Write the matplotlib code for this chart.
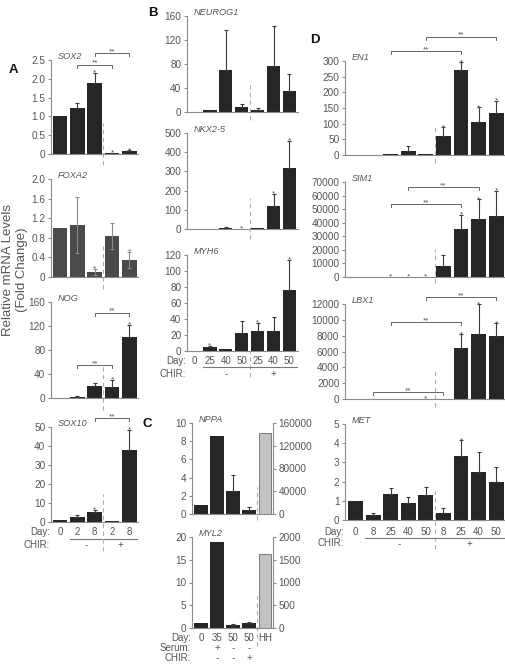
import matplotlib.pyplot as plt
import matplotlib.transforms as mtransforms
import numpy as np

plt.rcParams['font.family'] = ['Liberation Sans', 'DejaVu Sans']

W, H = 506, 665
TXT = '#555555'
SPINE = '#8c8c8c'
BAR = '#262626'
FS = 7.2

# ---- A: days 0, 2, 8 (-CHIR) and 2, 8 (+CHIR)
days_a = ['0', '2', '8', '2', '8']
sox2 = [1.0, 1.22, 1.9, 0.02, 0.07]
sox2_err = [0, 0.13, 0.26, 0.01, 0.03]
sox2_star = [0, 0, 1, 1, 1]
foxa2 = [1.0, 1.06, 0.1, 0.84, 0.35]
foxa2_err = [0, 0.57, 0.06, 0.27, 0.17]
foxa2_star = [0, 0, 1, 0, 1]
nog = [0.5, 2, 20, 19, 102]
nog_err = [0, 1, 5, 11, 20]
nog_star = [0, 0, 0, 1, 1]
sox10 = [0.8, 2.5, 5.2, 0.3, 38]
sox10_err = [0, 1.0, 1.3, 0, 10.5]
sox10_star = [0, 0, 1, 0, 1]

# ---- B: days 0, 25, 40, 50 (-CHIR) and 25, 40, 50 (+CHIR)
days_b = ['0', '25', '40', '50', '25', '40', '50']
neurog1 = [0.5, 3, 70, 8, 4, 77, 35]
neurog1_err = [0, 0, 67, 5, 2, 67, 29]
nkx25 = [0, 1, 5, 1, 3, 118, 318]
nkx25_err = [0, 0, 3, 0, 0, 65, 142]
nkx25_star = [0, 0, 0, 1, 0, 1, 1]
myh6 = [0.5, 4.5, 2.5, 22, 25, 25, 76]
myh6_err = [0, 2, 0, 15, 10, 17, 38]
myh6_star = [0, 1, 0, 0, 1, 0, 1]

# ---- C: day 0, 35 (+serum), 50, 50 (+CHIR), HH (right axis)
days_c = ['0', '35', '50', '50', 'HH']
serum_c = ['', '+', '-', '-', '']
chir_c = ['', '-', '-', '+', '']
nppa = [1.0, 8.6, 2.5, 0.4]
nppa_err = [0, 0, 1.75, 0.4]
nppa_hh = 142000
myl2 = [1.0, 18.8, 0.6, 1.1]
myl2_err = [0, 0, 0.3, 0.2]
myl2_hh = 1630

# ---- D: days 0, 8, 25, 40, 50 (-CHIR) and 8, 25, 40, 50 (+CHIR)
days_d = ['0', '8', '25', '40', '50', '8', '25', '40', '50']
en1 = [0.5, 0, 2, 14, 3, 60, 272, 104, 133]
en1_err = [0, 0, 0, 16, 0, 28, 24, 48, 40]
en1_star = [0, 0, 0, 0, 0, 1, 1, 1, 1]
sim1 = [0, 0, 150, 200, 250, 8300, 35300, 42500, 45000]
sim1_err = [0, 0, 0, 0, 0, 8000, 10400, 14700, 18400]
sim1_star = [0, 0, 1, 1, 1, 0, 1, 1, 1]
lbx1 = [0, 0, 0, 0, 30, 0, 6400, 8200, 8000]
lbx1_err = [0, 0, 0, 0, 0, 0, 1770, 3760, 1560]
lbx1_star = [0, 0, 0, 0, 1, 0, 1, 1, 1]
met = [1.0, 0.25, 1.35, 0.87, 1.32, 0.38, 3.35, 2.52, 1.97]
met_err = [0, 0.1, 0.3, 0.35, 0.42, 0.25, 0.8, 1.0, 0.78]
met_star = [0, 0, 0, 0, 0, 0, 1, 0, 0]

fig = plt.figure(figsize=(W / 100, H / 100), dpi=100)


def fy(ypx):
    return 1 - ypx / H


def panel(box, xlim, vals, errs, yticks, ylabels, title, stars=None,
          brackets=(), split=None, dash=(-0.12, 0.33), color=BAR, both=False):
    x0, y0, x1, y1 = box
    ax = fig.add_axes([x0 / W, fy(y1), (x1 - x0) / W, (y1 - y0) / H])
    x = np.arange(len(vals))
    ax.bar(x, vals, width=0.84, color=color, zorder=2)
    e = np.array(errs, dtype=float)
    m = e > 0
    lo = e[m] if both else np.zeros(m.sum())
    ax.errorbar(x[m], np.array(vals)[m], yerr=[lo, e[m]], fmt='none',
                ecolor='#8a8a8a' if both else '#3a3a3a', elinewidth=0.8,
                capsize=1.6, capthick=0.8, zorder=3)
    ax.set_xlim(*xlim)
    ax.set_ylim(0, yticks[-1])
    ax.set_yticks(yticks)
    ax.set_yticklabels(ylabels)
    for s in ['top', 'right']:
        ax.spines[s].set_visible(False)
    for s in ['left', 'bottom']:
        ax.spines[s].set_color(SPINE)
        ax.spines[s].set_linewidth(0.8)
    ax.tick_params(axis='y', length=2.5, width=0.8, color=SPINE, labelsize=FS,
                   labelcolor=TXT, pad=1.5)
    ax.tick_params(axis='x', bottom=False, labelbottom=False)
    ax.text(7 / (x1 - x0), 1 + 3.5 / (y1 - y0), title, transform=ax.transAxes,
            style='italic', fontsize=6.6, color=TXT, ha='left', va='center')
    if stars is not None:
        for i, st in enumerate(stars):
            if st:
                ax.annotate('*', (i, vals[i] + errs[i]), xytext=(0, -1.2),
                            textcoords='offset points', ha='center', va='baseline',
                            fontsize=6, color=TXT, annotation_clip=False)
    d = 3 * yticks[-1] / (y1 - y0)
    for a, b, yb in brackets:
        ax.plot([a, a, b, b], [yb - d, yb, yb, yb - d], color='#666666', lw=0.7,
                clip_on=False)
        ax.text((a + b) / 2, yb, '**', ha='center', va='baseline', fontsize=6,
                color=TXT, clip_on=False)
    if split is not None:
        tr = mtransforms.blended_transform_factory(ax.transData, ax.transAxes)
        ax.plot([split, split], dash, transform=tr, color='#b0b0b0', lw=0.8,
                ls=(0, (4, 3)), clip_on=False, zorder=1)
    return ax


def rows(ax, spine, items):
    tr = mtransforms.blended_transform_factory(ax.transData, fig.transFigure)
    for ypx, head, labels in items:
        fig.text((spine - 1) / W, fy(ypx), head, ha='right', va='center',
                 fontsize=7, color=TXT)
        for i, lab in enumerate(labels):
            ax.text(i, fy(ypx), lab, transform=tr, ha='center', va='center',
                    fontsize=7, color=TXT)


def groups(ax, yline, ysign, spans):
    tr = mtransforms.blended_transform_factory(ax.transData, fig.transFigure)
    for a, b, sign in spans:
        ax.plot([a - 0.45, b + 0.45], [fy(yline)] * 2, transform=tr,
                color='#777777', lw=0.8, clip_on=False)
        ax.text((a + b) / 2, fy(ysign), sign, transform=tr, ha='center',
                va='center', fontsize=7, color=TXT)


# ---------------- Panel A
xa = (-0.52, 4.5)
panel((51, 60, 138, 154), xa, sox2, sox2_err, [0, 0.5, 1, 1.5, 2, 2.5],
      ['0', '0.5', '1.0', '1.5', '2.0', '2.5'], 'SOX2', sox2_star,
      [(1, 3, 2.37), (2, 4, 2.68)], split=2.5)
panel((51, 179, 138, 277), xa, foxa2, foxa2_err, [0, 0.4, 0.8, 1.2, 1.6, 2.0],
      ['0', '0.4', '0.8', '1.2', '1.6', '2.0'], 'FOXA2', foxa2_star,
      split=2.5, color='#4a4a4a', both=True)
panel((51, 302, 138, 398), xa, nog, nog_err, [0, 40, 80, 120, 160],
      ['0', '40', '80', '120', '160'], 'NOG', nog_star,
      [(1, 3, 55), (2, 4, 142)], split=2.5)
ax = panel((51, 427, 138, 522), xa, sox10, sox10_err, [0, 10, 20, 30, 40, 50],
           ['0', '10', '20', '30', '40', '50'], 'SOX10', sox10_star,
           [(2, 4, 54.7)], split=2.5, dash=(-0.3, 0.3))
rows(ax, 51, [(532, 'Day:', days_a), (545, 'CHIR:', [''] * 5)])
groups(ax, 539, 545, [(1, 2, '-'), (3, 4, '+')])

# ---------------- Panel B
xb = (-0.44, 6.54)
panel((187, 16, 298, 112), xb, neurog1, neurog1_err, [0, 40, 80, 120, 160],
      ['0', '40', '80', '120', '160'], 'NEUROG1', split=3.5, dash=(-0.08, 0.32))
panel((187, 133, 298, 229), xb, nkx25, nkx25_err, [0, 100, 200, 300, 400, 500],
      ['0', '100', '200', '300', '400', '500'], 'NKX2-5', nkx25_star,
      split=3.5, dash=(-0.1, 0.32))
ax = panel((187, 255, 298, 351), xb, myh6, myh6_err, [0, 20, 40, 60, 80, 100, 120],
           ['0', '20', '40', '60', '80', '100', '120'], 'MYH6', myh6_star,
           split=3.5, dash=(-0.27, 0.0))
rows(ax, 187, [(361, 'Day:', days_b), (374, 'CHIR:', [''] * 7)])
groups(ax, 367, 374, [(1, 3, '-'), (4, 6, '+')])

# ---------------- Panel C
xc = (-0.56, 4.5)


def right_axis(ax, val, ticks, labels):
    ax2 = ax.twinx()
    ax2.bar([4], [val], width=0.78, color='#c2c2c2', edgecolor='#7a7a7a', lw=0.7)
    ax2.set_xlim(*xc)
    ax2.set_ylim(0, ticks[-1])
    ax2.set_yticks(ticks)
    ax2.set_yticklabels(labels)
    for s in ['top', 'left', 'bottom']:
        ax2.spines[s].set_visible(False)
    ax2.spines['right'].set_color(SPINE)
    ax2.spines['right'].set_linewidth(0.8)
    ax2.tick_params(axis='y', length=2.5, width=0.8, color=SPINE, labelsize=FS,
                    labelcolor=TXT, pad=1.5)


ax = panel((192, 423, 273, 514), xc, nppa, nppa_err, [0, 2, 4, 6, 8, 10],
           ['0', '2', '4', '6', '8', '10'], 'NPPA', split=3.5, dash=(-0.07, 0.3))
right_axis(ax, nppa_hh, [0, 40000, 80000, 120000, 160000],
           ['0', '40000', '80000', '120000', '160000'])
ax = panel((192, 537, 273, 628), xc, myl2, myl2_err, [0, 5, 10, 15, 20],
           ['0', '5', '10', '15', '20'], 'MYL2', split=3.5, dash=(-0.2, 0.35))
right_axis(ax, myl2_hh, [0, 500, 1000, 1500, 2000],
           ['0', '500', '1000', '1500', '2000'])
rows(ax, 192, [(638, 'Day:', days_c), (648, 'Serum:', serum_c),
               (658, 'CHIR:', chir_c)])

# ---------------- Panel D
xd = (-0.6, 8.5)
panel((345, 61, 505, 155), xd, en1, en1_err, [0, 50, 100, 150, 200, 250, 300],
      ['0', '50', '100', '150', '200', '250', '300'], 'EN1', en1_star,
      [(2, 6, 332), (4, 8, 377)], split=4.5, dash=(-0.08, 0.3))
panel((345, 182, 505, 277), xd, sim1, sim1_err,
      [0, 10000, 20000, 30000, 40000, 50000, 60000, 70000],
      ['0', '10000', '20000', '30000', '40000', '50000', '60000', '70000'],
      'SIM1', sim1_star, [(2, 6, 53800), (3, 7, 66300)], split=4.5,
      dash=(-0.06, 0.3))
panel((345, 304, 505, 399), xd, lbx1, lbx1_err,
      [0, 2000, 4000, 6000, 8000, 10000, 12000],
      ['0', '2000', '4000', '6000', '8000', '10000', '12000'],
      'LBX1', lbx1_star, [(1, 5, 880), (2, 6, 9720), (4, 8, 12880)],
      split=4.5, dash=(-0.08, 0.3))
ax = panel((345, 424, 505, 520), xd, met, met_err, [0, 1, 2, 3, 4, 5],
           ['0', '1', '2', '3', '4', '5'], 'MET', met_star, split=4.5,
           dash=(-0.3, 0.3))
rows(ax, 345, [(532, 'Day:', days_d), (543, 'CHIR:', [''] * 9)])
groups(ax, 538, 544, [(1, 4, '-'), (5, 8, '+')])

# panel letters and shared y label
for lx, ly, letter in [(13, 70, 'A'), (153, 13, 'B'), (147, 424, 'C'), (315, 40, 'D')]:
    fig.text(lx / W, fy(ly), letter, fontsize=9.5, fontweight='bold', color='#111111',
             ha='center', va='center')
fig.text(8 / W, fy(270), 'Relative mRNA Levels', rotation=90, fontsize=9.5,
         color=TXT, ha='center', va='center')
fig.text(22 / W, fy(270), '(Fold Change)', rotation=90, fontsize=9.5,
         color=TXT, ha='center', va='center')

fig.savefig('out.png', dpi=100)
